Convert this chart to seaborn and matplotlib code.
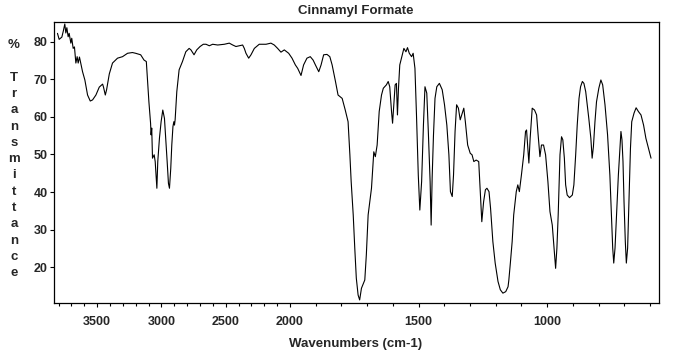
import numpy as np
import pandas as pd
import matplotlib
matplotlib.use("Agg")
import matplotlib.pyplot as plt
from matplotlib.ticker import FixedLocator, MultipleLocator
import seaborn as sns

# IR spectrum of cinnamyl formate
wavenumber = [3808, 3795, 3774, 3762, 3751, 3743, 3735, 3725, 3717, 3704, 3697, 3686, 3676, 3665,
              3655, 3647, 3637, 3626, 3613, 3595, 3574, 3553, 3535, 3509, 3483, 3457, 3450, 3436,
              3426, 3405, 3380, 3341, 3302, 3263, 3225, 3200, 3161, 3135, 3117, 3109, 3097, 3084,
              3080, 3075, 3069, 3056, 3048, 3035, 3028, 3015, 3002, 2989, 2976, 2966, 2955, 2945,
              2937, 2927, 2919, 2910, 2903, 2898, 2893, 2880, 2862, 2836, 2810, 2784, 2770, 2746,
              2725, 2699, 2674, 2653, 2627, 2601, 2562, 2510, 2472, 2445, 2420, 2394, 2368, 2355,
              2342, 2321, 2303, 2277, 2239, 2186, 2148, 2122, 2096, 2070, 2044, 2010, 1992, 1979,
              1970, 1957, 1947, 1934, 1921, 1910, 1901, 1888, 1879, 1869, 1856, 1845, 1836, 1823,
              1813, 1797, 1785, 1774, 1767, 1762, 1754, 1748, 1742, 1735, 1729, 1722, 1709, 1703,
              1696, 1683, 1674, 1668, 1661, 1653, 1644, 1637, 1625, 1618, 1612, 1605, 1601, 1596,
              1591, 1586, 1582, 1578, 1573, 1562, 1557, 1549, 1543, 1536, 1527, 1521, 1514, 1508,
              1501, 1495, 1488, 1481, 1475, 1468, 1462, 1455, 1451, 1447, 1442, 1436, 1429, 1419,
              1408, 1399, 1390, 1382, 1376, 1369, 1364, 1358, 1352, 1345, 1338, 1332, 1324, 1318,
              1309, 1299, 1292, 1285, 1276, 1266, 1260, 1254, 1247, 1240, 1234, 1226, 1220, 1211,
              1202, 1191, 1182, 1172, 1161, 1152, 1149, 1143, 1136, 1130, 1120, 1114, 1108, 1100,
              1091, 1084, 1080, 1076, 1071, 1066, 1058, 1049, 1041, 1035, 1028, 1022, 1014, 1006,
              997, 989, 980, 974, 967, 962, 957, 950, 944, 939, 933, 928, 922, 913,
              902, 896, 889, 883, 876, 870, 863, 857, 850, 838, 830, 825, 820, 814,
              808, 799, 791, 784, 775, 765, 756, 749, 745, 741, 736, 730, 723, 717,
              713, 709, 705, 701, 696, 692, 687, 682, 676, 671, 662, 654, 645, 635,
              625, 616, 606, 596]
transmittance = [82.2, 80.6, 81.2, 82.9, 84.7, 82.3, 83.7, 81.3, 82.2, 79.6, 80.9, 78.2, 78.6, 74.3,
                 76.0, 74.3, 75.9, 74.1, 72.0, 69.8, 65.8, 64.2, 64.5, 65.8, 67.9, 68.7, 67.9, 65.8,
                 67.2, 71.4, 74.3, 75.6, 76.0, 76.9, 77.1, 76.9, 76.5, 75.1, 74.7, 70.3, 64.0, 58.3,
                 55.2, 57.0, 49.0, 49.9, 48.1, 41.0, 48.1, 54.3, 58.7, 61.8, 59.6, 54.3, 48.1, 42.3,
                 41.0, 46.3, 52.5, 57.4, 58.7, 57.8, 59.2, 66.7, 72.5, 74.7, 77.3, 78.2, 77.8, 76.5,
                 77.8, 78.7, 79.3, 79.3, 78.9, 79.3, 79.1, 79.3, 79.6, 79.1, 78.7, 78.9, 79.1, 78.2,
                 76.9, 75.6, 76.5, 78.2, 79.3, 79.3, 79.6, 79.1, 78.2, 77.2, 77.8, 76.9, 75.6, 73.8,
                 72.9, 71.0, 73.8, 75.6, 76.0, 75.1, 73.8, 72.0, 73.8, 76.5, 76.6, 76.0, 73.8, 69.4,
                 65.8, 64.9, 61.8, 58.7, 49.9, 42.8, 33.9, 25.1, 17.1, 12.6, 11.3, 14.4, 16.6, 23.3,
                 33.9, 41.0, 50.7, 49.4, 52.5, 61.4, 65.8, 67.6, 68.5, 69.4, 68.0, 61.4, 58.3, 63.2,
                 68.5, 68.9, 60.5, 67.6, 73.8, 76.9, 78.2, 77.3, 78.4, 76.9, 76.0, 76.9, 72.9, 60.5,
                 44.5, 35.2, 42.8, 57.8, 68.0, 66.3, 56.1, 42.8, 31.2, 44.0, 55.0, 64.9, 68.0, 68.9,
                 67.2, 63.2, 57.8, 49.9, 40.1, 38.8, 44.5, 56.1, 63.2, 62.3, 59.2, 60.5, 62.3, 58.7,
                 52.5, 50.3, 49.9, 48.1, 48.5, 48.1, 40.1, 32.1, 37.4, 40.6, 41.0, 40.1, 35.7, 26.8,
                 21.1, 16.2, 14.0, 13.1, 13.5, 14.8, 16.5, 21.1, 26.8, 33.9, 40.1, 41.9, 40.1, 44.5,
                 49.9, 56.1, 56.5, 52.5, 47.7, 54.3, 62.3, 61.8, 60.5, 55.2, 49.4, 52.5, 52.5, 49.9,
                 42.8, 34.8, 31.2, 25.9, 19.7, 25.1, 33.9, 49.9, 54.7, 53.9, 49.0, 41.9, 39.2, 38.5,
                 39.2, 41.9, 49.9, 57.8, 64.9, 68.0, 69.4, 68.9, 66.7, 59.6, 54.3, 49.0, 52.1, 58.7,
                 64.0, 67.6, 69.8, 68.5, 63.2, 55.2, 44.5, 32.1, 25.1, 21.1, 25.1, 33.9, 44.5, 51.6,
                 56.1, 53.9, 48.1, 37.4, 26.8, 21.1, 25.1, 37.4, 51.6, 58.7, 61.0, 62.4, 61.4, 60.5,
                 57.8, 54.3, 51.6, 49.0]

x_ticks = [3500, 3000, 2500, 2000, 1500, 1000]
y_ticks = [20, 30, 40, 50, 60, 70, 80]
ylabel_chars = ["%", "", "T", "r", "a", "n", "s", "m", "i", "t", "t", "a", "n", "c", "e"]

df = pd.DataFrame({"wn": wavenumber, "T": transmittance})

sns.set_style("ticks")
plt.rcParams["font.family"] = ["Liberation Sans", "DejaVu Sans"]
plt.rcParams["font.weight"] = "bold"


# axis is compressed 2x above 2000 cm-1
def fwd(w):
    w = np.asarray(w, dtype=float)
    return np.where(w > 2000, 2000 + (w - 2000) * 0.5, w)


def inv(u):
    u = np.asarray(u, dtype=float)
    return np.where(u > 2000, 2000 + (u - 2000) * 2.0, u)


fig = plt.figure(figsize=(6.73, 3.51), dpi=100)
ax = fig.add_axes([54 / 673, 1 - 303.3 / 351, 605 / 673, 281.6 / 351])

sns.lineplot(data=df, x="wn", y="T", ax=ax, color="black", linewidth=0.8,
             sort=False, estimator=None)

ax.set_xscale("function", functions=(fwd, inv))
ax.set_xlim(3835, 565)
ax.set_ylim(10.4, 85.3)

ax.xaxis.set_major_locator(FixedLocator(x_ticks))
ax.xaxis.set_minor_locator(MultipleLocator(100))
ax.yaxis.set_major_locator(FixedLocator(y_ticks))
ax.set_xticklabels([str(t) for t in x_ticks])

for side in ["top", "right", "left", "bottom"]:
    ax.spines[side].set_visible(True)
    ax.spines[side].set_color("black")
    ax.spines[side].set_linewidth(0.9)

ax.tick_params(axis="x", which="major", length=3, width=0.8, pad=6.5, labelsize=9, color="black")
ax.tick_params(axis="x", which="minor", length=2, width=0.8, color="black")
ax.tick_params(axis="y", which="major", length=3, width=0.8, pad=1.5, labelsize=9, color="black")
for lab in ax.get_xticklabels() + ax.get_yticklabels():
    lab.set_fontweight("bold")

ax.set_xlabel("")
ax.set_ylabel("")

fig.text(356 / 673, 1 - 11 / 351, "Cinnamyl Formate", ha="center", va="center",
         fontsize=9.5, fontweight="bold")
fig.text(356 / 673, 1 - 344 / 351, "Wavenumbers (cm-1)", ha="center", va="center",
         fontsize=9.5, fontweight="bold")

for i, ch in enumerate(ylabel_chars):
    if ch:
        fig.text(14 / 673, 1 - (45 + i * 16.3) / 351, ch, ha="center", va="center",
                 fontsize=9.5, fontweight="bold")

fig.savefig("out.png", dpi=100)
